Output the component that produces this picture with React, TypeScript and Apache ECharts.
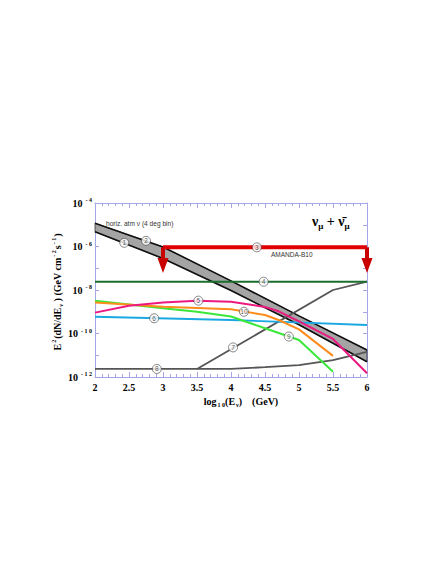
import React, { useEffect, useRef } from 'react';
import * as echarts from 'echarts';

const serif = '"Liberation Serif", "DejaVu Serif", serif';
const sans = '"Liberation Sans", Arial, sans-serif';

// x: log10(E / GeV); y: log10(E^2 dN/dE)
const bandX = [2, 3, 4, 5, 6];
const bandUpper = [-4.93, -6.02, -7.58, -9.19, -10.76];
const bandLower = [-5.32, -6.55, -8.02, -9.6, -11.3];

const amandaX = [3, 6];
const amandaY = [-6.04, -6.04];
const arrowX = [3, 6];
const arrowTop = -6.04;
const arrowTip = -7.22;

const c4X = [2, 6];
const c4Y = [-7.62, -7.62];

const c5X = [2, 2.5, 3, 3.5, 4, 4.5, 4.7, 5, 5.5, 6];
const c5Y = [-9.04, -8.72, -8.57, -8.49, -8.54, -8.78, -8.98, -9.44, -10.25, -11.83];

const c6X = [2, 4, 6];
const c6Y = [-9.23, -9.38, -9.61];

const c7X = [3.5, 5.5, 6];
const c7Y = [-11.63, -8.0, -7.62];

const c8X = [2, 4, 4.5, 5, 5.5, 6];
const c8Y = [-11.63, -11.63, -11.55, -11.45, -11.22, -10.84];

const c9X = [2, 3, 3.5, 4, 4.5, 4.85, 5, 5.5];
const c9Y = [-8.49, -8.84, -9.0, -9.22, -9.76, -10.14, -10.3, -11.76];

const c10X = [2, 3, 4, 4.5, 4.7, 5, 5.5];
const c10Y = [-8.57, -8.77, -8.89, -9.15, -9.38, -9.81, -11.03];

const tagText = ['1', '2', '3', '4', '5', '6', '7', '8', '9', '10'];
const tagX = [2.43, 2.75, 4.38, 4.48, 3.52, 2.87, 4.03, 2.91, 4.85, 4.19];
const tagY = [-5.83, -5.74, -6.04, -7.62, -8.49, -9.3, -10.64, -11.63, -10.14, -9.0];

const xTicks = [2, 2.5, 3, 3.5, 4, 4.5, 5, 5.5, 6];

const axisColor = '#a6a6e6';

const pairs = (xs: number[], ys: number[]) => xs.map((x, i) => [x, ys[i]]);

const lineSeries = (xs: number[], ys: number[], color: string, width: number, z = 3) => ({
  type: 'line',
  data: pairs(xs, ys),
  symbol: 'none',
  lineStyle: { color, width },
  z,
  silent: true,
});

export default function App() {
  const ref = useRef<HTMLDivElement>(null);
  useEffect(() => {
    document.body.style.margin = '0';
    const chart = echarts.init(ref.current!, null, { renderer: 'svg' });
    const xAxisBase = {
      type: 'value',
      min: 2,
      max: 6,
      interval: 0.5,
      axisLine: { show: true, onZero: false, lineStyle: { color: axisColor, width: 1 } },
      axisTick: { show: true, inside: true, length: 5, lineStyle: { color: axisColor } },
      minorTick: { show: true, splitNumber: 5, length: 3, lineStyle: { color: axisColor } },
      splitLine: { show: false },
    };
    const yAxisBase = {
      type: 'value',
      min: -12,
      max: -4,
      interval: 1,
      axisLine: { show: true, onZero: false, lineStyle: { color: axisColor, width: 1 } },
      axisTick: { show: true, inside: true, length: 4, lineStyle: { color: axisColor } },
      splitLine: { show: false },
    };
    const option: any = {
      animation: false,
      backgroundColor: '#ffffff',
      grid: { left: 95, top: 203, width: 272, height: 174, containLabel: false },
      xAxis: [
        {
          ...xAxisBase,
          position: 'bottom',
          axisLabel: {
            show: true,
            margin: 5,
            showMinLabel: true,
            showMaxLabel: true,
            formatter: (v: number) => (xTicks.includes(v) ? String(v) : ''),
            fontFamily: serif,
            fontWeight: 'bold',
            fontSize: 10,
            color: '#000',
          },
        },
        { ...xAxisBase, position: 'top', axisLabel: { show: false } },
      ],
      yAxis: [
        {
          ...yAxisBase,
          position: 'left',
          axisLabel: {
            show: true,
            margin: 3,
            showMinLabel: true,
            showMaxLabel: true,
            formatter: (v: number) =>
              v % 2 === 0 ? `{a|10}{b|- ${String(-v).split('').join(' ')}}` : '',
            rich: {
              a: { fontFamily: serif, fontWeight: 'bold', fontSize: 10, color: '#000', lineHeight: 12 },
              b: { fontFamily: serif, fontWeight: 'bold', fontSize: 6, color: '#000', verticalAlign: 'top', lineHeight: 6, padding: [0, 0, 6, 3] },
            },
          },
        },
        { ...yAxisBase, position: 'right', axisLabel: { show: false } },
      ],
      series: [
        {
          type: 'custom',
          data: [[bandX[0], bandUpper[0]]],
          z: 1,
          silent: true,
          renderItem: (params: any, api: any) => {
            const up = bandX.map((x, i) => api.coord([x, bandUpper[i]]));
            const lo = bandX.map((x, i) => api.coord([x, bandLower[i]])).reverse();
            return {
              type: 'polygon',
              shape: { points: up.concat(lo) },
              style: { fill: '#a4a4a4', stroke: '#000', lineWidth: 0.6 },
            };
          },
        },
        lineSeries(bandX, bandUpper, '#111', 1.6, 2),
        lineSeries(bandX, bandLower, '#111', 1.6, 2),
        lineSeries(c8X, c8Y, '#555555', 1.8),
        lineSeries(c7X, c7Y, '#555555', 1.8),
        lineSeries(c6X, c6Y, '#1aa8e2', 1.8),
        lineSeries(c9X, c9Y, '#3ae83a', 2),
        lineSeries(c10X, c10Y, '#ff8c1c', 2),
        lineSeries(c5X, c5Y, '#ec1a80', 2),
        lineSeries(c4X, c4Y, '#1c6e2c', 2),
        lineSeries(amandaX, amandaY, '#e10000', 4, 4),
        {
          type: 'custom',
          data: arrowX.map((x) => [x, arrowTop, arrowTip]),
          z: 5,
          silent: true,
          renderItem: (params: any, api: any) => {
            const top = api.coord([api.value(0), api.value(1)]);
            const tip = api.coord([api.value(0), api.value(2)]);
            const headH = 15;
            const sw = 4;
            const hw = 11;
            const base = tip[1] - headH;
            return {
              type: 'polygon',
              shape: {
                points: [
                  [top[0] - sw / 2, top[1]],
                  [top[0] + sw / 2, top[1]],
                  [top[0] + sw / 2, base],
                  [top[0] + hw / 2, base],
                  [tip[0], tip[1]],
                  [top[0] - hw / 2, base],
                  [top[0] - sw / 2, base],
                ],
              },
              style: { fill: '#c80000' },
            };
          },
        },
        {
          type: 'scatter',
          z: 6,
          silent: true,
          symbol: 'circle',
          symbolSize: 9,
          itemStyle: { color: '#fff', borderColor: '#444', borderWidth: 0.8 },
          label: {
            show: true,
            position: 'inside',
            formatter: '{b}',
            fontFamily: sans,
            fontSize: 6.5,
            color: '#333',
          },
          data: tagX.map((x, i) => ({ value: [x, tagY[i]], name: tagText[i] })),
        },
      ],
      graphic: [
        {
          type: 'text',
          x: 106,
          y: 223,
          style: {
            text: 'horiz. atm ν (4 deg bin)',
            fontFamily: sans,
            fontSize: 6.6,
            fill: '#333',
            verticalAlign: 'middle',
          },
        },
        {
          type: 'text',
          x: 271,
          y: 254,
          style: {
            text: 'AMANDA-B10',
            fontFamily: sans,
            fontSize: 6.5,
            fill: '#333',
            verticalAlign: 'middle',
          },
        },
        {
          type: 'text',
          x: 312,
          y: 221,
          style: {
            text: '{n|ν}{s|μ}{p| + }{n|ν̄}{s|μ}',
            verticalAlign: 'middle',
            rich: {
              n: { fontFamily: serif, fontWeight: 'bold', fontSize: 14, fill: '#000' },
              p: { fontFamily: serif, fontWeight: 'bold', fontSize: 14, fill: '#000' },
              s: { fontFamily: serif, fontWeight: 'bold', fontSize: 9, fill: '#000', padding: [10, 0, 0, 0] },
            },
          },
        },
        {
          type: 'text',
          x: 241,
          y: 401,
          style: {
            text: '{t|log}{u|1 0}{t|(E}{u|ν}{t|)    (GeV)}',
            align: 'center',
            verticalAlign: 'middle',
            rich: {
              t: { fontFamily: serif, fontWeight: 'bold', fontSize: 10, fill: '#000' },
              u: { fontFamily: serif, fontWeight: 'bold', fontSize: 6, fill: '#000', padding: [7, 0, 0, 1] },
            },
          },
        },
        {
          type: 'text',
          x: 57,
          y: 292,
          rotation: Math.PI / 2,
          style: {
            text: '{t|E}{s|2}{t|(dN/dE}{u|ν}{t| ) (GeV cm}{s|- 2}{t|s}{s|- 1}{t|)}',
            align: 'center',
            verticalAlign: 'middle',
            rich: {
              t: { fontFamily: serif, fontWeight: 'bold', fontSize: 10, fill: '#000' },
              s: { fontFamily: serif, fontWeight: 'bold', fontSize: 6, fill: '#000', padding: [0, 1, 7, 1] },
              u: { fontFamily: serif, fontWeight: 'bold', fontSize: 6, fill: '#000', padding: [7, 0, 0, 1] },
            },
          },
        },
      ],
    };
    chart.setOption(option);
    return () => chart.dispose();
  }, []);
  return <div ref={ref} style={{ width: 436, height: 564 }} />;
}
